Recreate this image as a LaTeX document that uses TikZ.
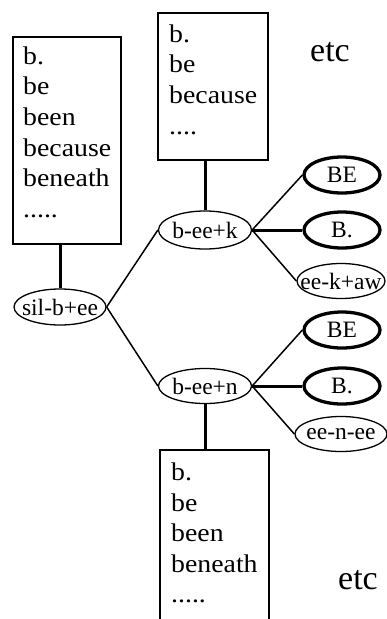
\documentclass[tikz,border=0pt]{standalone}
\usepackage{fontspec}
\setmainfont{Liberation Serif}
\newfontfamily\widefont[FakeStretch=1.09]{Liberation Serif}
\usetikzlibrary{shapes.geometric}
\begin{document}
\begin{tikzpicture}[x=1pt,y=-1pt,
  wbox/.style={draw, line width=2pt, anchor=north west, inner sep=0pt},
  btext/.style={anchor=north west, inner sep=0pt, align=left, font=\widefont\fontsize{25.5}{30.6}\selectfont},
  ell/.style={ellipse, draw, line width=1.3pt, inner sep=0pt, font=\fontsize{23.5}{24}\selectfont},
  thickell/.style={ell, line width=3.3pt, minimum width=76, minimum height=36},
  thinline/.style={line width=1.5pt},
  thickline/.style={line width=3pt},
  etcstyle/.style={inner sep=0pt, font=\fontsize{34}{34}\selectfont},
]
\useasboundingbox (0,0) rectangle (387,619);
\clip (0,0) rectangle (387,619);

% word boxes
\node[wbox, minimum width=108, minimum height=207] (lbox) at (12,36) {};
\node[btext] (ltext) at (23,46.5) {b.\\be\\been\\because\\beneath\\.....};
\node[wbox, minimum width=110, minimum height=147] (tbox) at (157,12) {};
\node[btext] (ttext) at (169,24.5) {b.\\be\\because\\....};
\node[wbox, minimum width=109, minimum height=200] (bbox) at (159,449) {};
\node[btext] (btextn) at (171,462.5) {b.\\be\\been\\beneath\\.....};

% ellipses
\node[ell, minimum width=92, minimum height=36] (sil) at (60,307) {\makebox[0pt]{sil-b+ee}};
\node[ell, minimum width=93, minimum height=38] (k) at (205,230) {\makebox[0pt]{b-ee+k}};
\node[ell, minimum width=93, minimum height=35] (n) at (205,386) {\makebox[0pt]{b-ee+n}};
\node[thickell] (be1) at (342,175) {\makebox[0pt]{BE}};
\node[thickell] (bd1) at (342,230) {\makebox[0pt]{B.}};
\node[ell, minimum width=88, minimum height=35] (aw) at (341,281) {\makebox[0pt]{ee-k+aw}};
\node[thickell] (be2) at (342,330) {\makebox[0pt]{BE}};
\node[thickell] (bd2) at (342,386) {\makebox[0pt]{B.}};
\node[ell, minimum width=92, minimum height=35] (nee) at (341,434) {\makebox[0pt]{ee-n-ee}};

% etc
\node[etcstyle] (etc1) at (330,52) {etc};
\node[etcstyle] (etc2) at (358,580) {etc};

% connectors
\draw[thickline] (sil.north) -- (sil.north |- lbox.south);
\draw[thickline] (k.north) -- (k.north |- tbox.south);
\draw[thickline] (n.south) -- (n.south |- bbox.north);
\draw[thinline] (sil.east) -- (k.west);
\draw[thinline] (sil.east) -- (n.west);
\draw[thinline] (k.east) -- (be1.west);
\draw[thickline] (k.east) -- (bd1.west);
\draw[thinline] (k.east) -- (aw.west);
\draw[thinline] (n.east) -- (be2.west);
\draw[thickline] (n.east) -- (bd2.west);
\draw[thinline] (n.east) -- (nee.west);
\end{tikzpicture}
\end{document}
